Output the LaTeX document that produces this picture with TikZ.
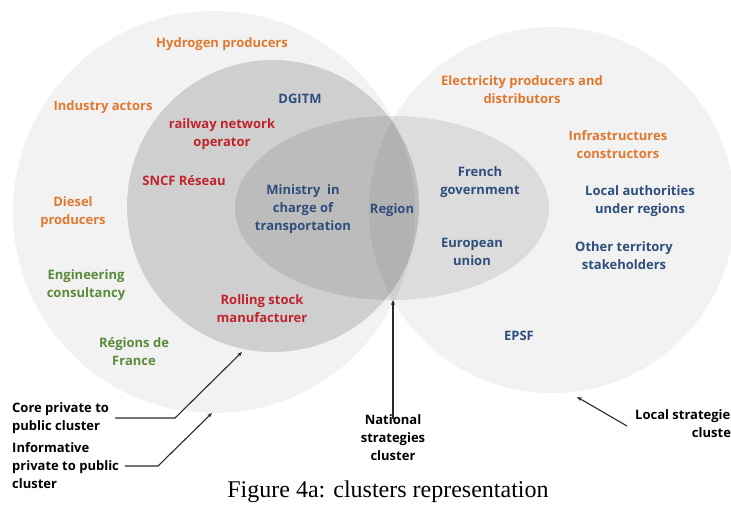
\documentclass[tikz,border=0pt]{standalone}
\usepackage{fontspec}
\setmainfont{Open Sans}
\newfontfamily\capfont{Liberation Serif}
\usetikzlibrary{arrows.meta}
\definecolor{orng}{HTML}{E0782F}
\definecolor{dred}{HTML}{C0232B}
\definecolor{dblue}{HTML}{2E4E7C}
\definecolor{dgreen}{HTML}{5A8A3A}
\definecolor{linec}{HTML}{2A2A2A}
\begin{document}
\begin{tikzpicture}[x=1pt,y=-1pt,
  lbl/.style={font=\fontsize{13}{18}\selectfont\bfseries, align=center, inner sep=0pt},
  olbl/.style={lbl, text=orng},
  rlbl/.style={lbl, text=dred},
  blbl/.style={lbl, text=dblue},
  glbl/.style={lbl, text=dgreen},
  klbl/.style={lbl, text=black},
  arr/.style={draw=linec, line width=1.1pt, -{Stealth[length=5pt,width=4pt]}},
  shade/.style={fill=black, draw=none}
]
\useasboundingbox (0,0) rectangle (731,505);
\fill[white] (0,0) rectangle (731,505);
% clusters
\fill[shade, fill opacity=0.05] (214,212) circle (201pt);
\fill[shade, fill opacity=0.14] (273,206) circle (146pt);
\fill[shade, fill opacity=0.09] (392,208) ellipse [x radius=157pt, y radius=92pt];
\fill[shade, fill opacity=0.05] (552,210) circle (183pt);
% left side labels
\node[olbl] (hydro) at (222,44) {Hydrogen producers};
\node[olbl] (indus) at (103,107) {Industry actors};
\node[olbl] (diesel) at (73,212) {Diesel\\producers};
\node[glbl] (engin) at (86,285) {Engineering\\consultancy};
\node[glbl] (regfr) at (134,352) {Régions de\\France};
% middle circle labels
\node[blbl] (dgitm) at (300,99) {DGITM};
\node[rlbl] (rail) at (222,134) {railway network\\operator};
\node[rlbl] (sncf) at (184,181) {SNCF Réseau};
\node[rlbl] (rolling) at (262,309) {Rolling stock\\manufacturer};
% ellipse labels
\node[blbl] (minis) at (303,209) {Ministry\ \ in\\charge of\\transportation};
\node[blbl] (region) at (392,210) {Region};
\node[blbl] (french) at (480,182) {French\\government};
\node[blbl] (europe) at (472,252) {European\\union};
% right circle labels
\node[olbl] (elec) at (522,90) {Electricity producers and\\distributors};
\node[olbl] (infra) at (618,145) {Infrastructures\\constructors};
\node[blbl] (local) at (640,201) {Local authorities\\under regions};
\node[blbl] (other) at (624,256) {Other territory\\stakeholders};
\node[blbl] (epsf) at (519,336) {EPSF};
% legend labels
\node[klbl, align=left, anchor=west] (core) at (12,418) {Core private to\\public cluster};
\node[klbl, align=left, anchor=west] (inform) at (12,466) {Informative\\private to public\\cluster};
\node[klbl] (national) at (393,438) {National\\strategies\\cluster};
\node[klbl, align=right, anchor=west] (localc) at (635,424) {Local strategies\\cluster};
% arrow targets
\coordinate (coreK) at (175,418);
\coordinate (coreTip) at (242,352);
\coordinate (infK) at (158,466);
\coordinate (infTip) at (212,413);
\coordinate (natTip) at (393,300);
\coordinate (locTip) at (577,397);
\draw[arr] ([xshift=6pt]core.east) -- (coreK) -- (coreTip);
\draw[arr] ([xshift=6pt]inform.east) -- (infK) -- (infTip);
\draw[arr] ([yshift=-4pt]national.north) -- (natTip);
\draw[arr] ([xshift=-8pt,yshift=-2pt]localc.west) -- (locTip);
% caption
\node[font=\capfont\fontsize{24}{28}\selectfont, inner sep=0pt] (caption) at (388,492) {Figure 4a: clusters representation};
\end{tikzpicture}
\end{document}
